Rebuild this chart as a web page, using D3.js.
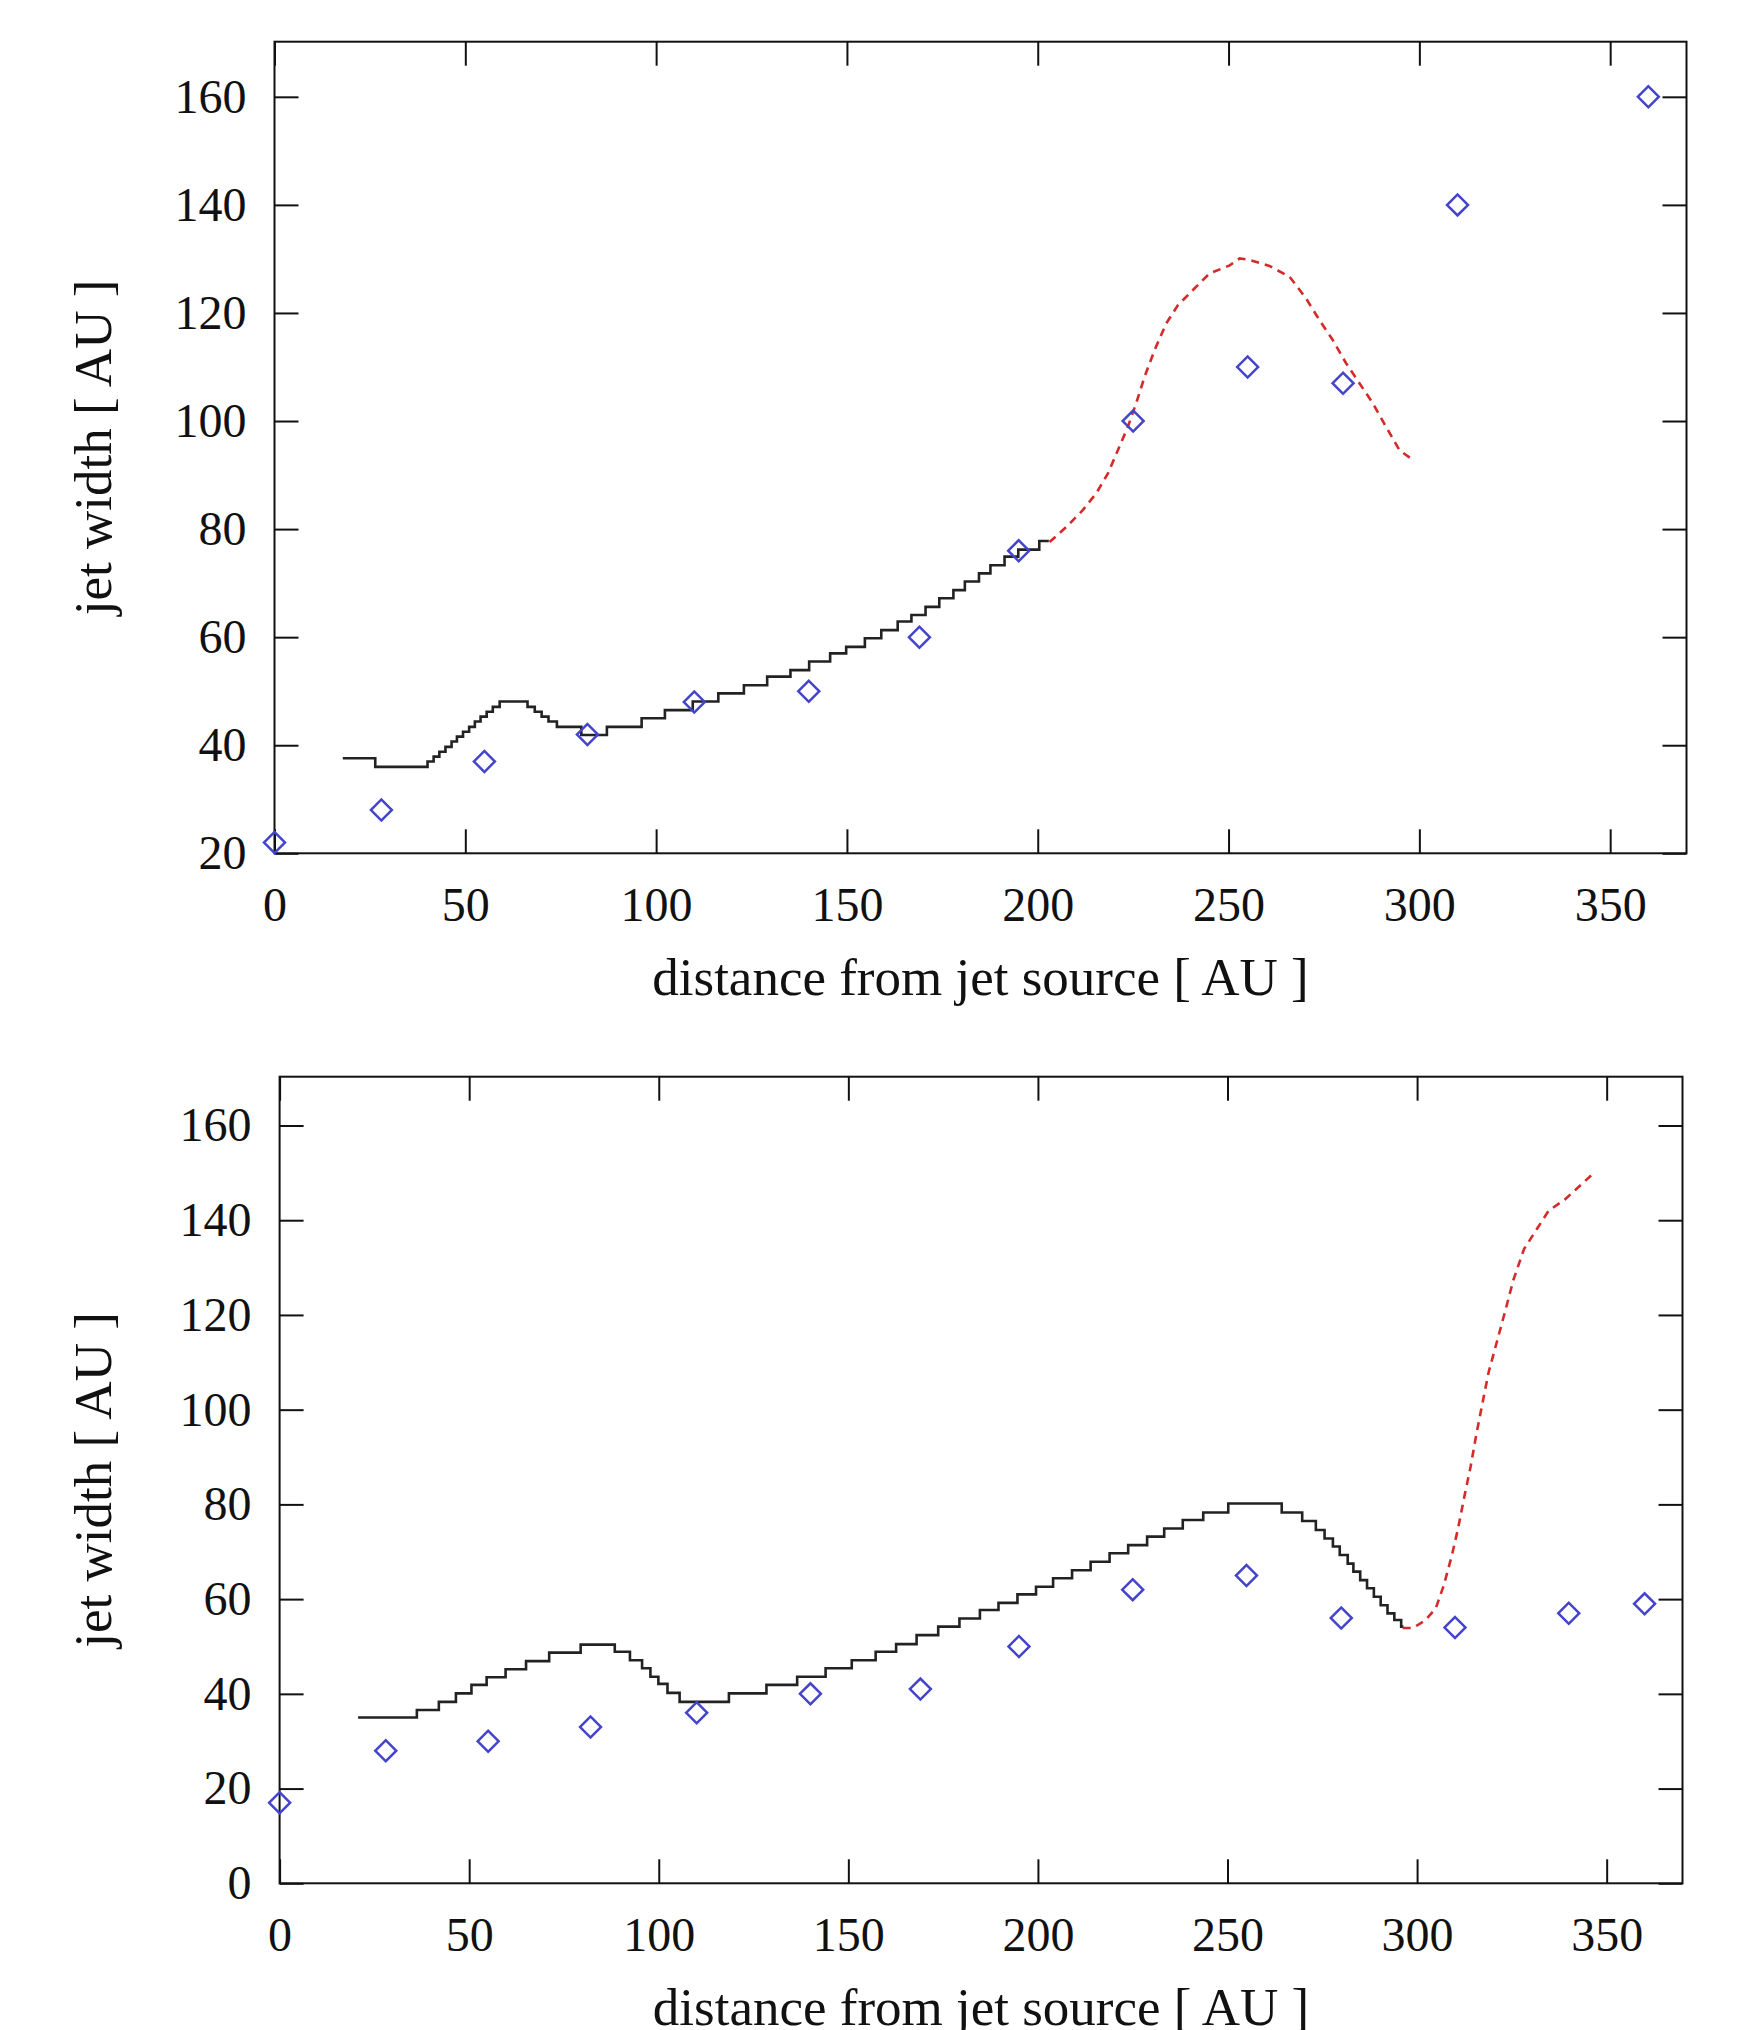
<!DOCTYPE html>
<html>
<head>
<meta charset="utf-8">
<script src="https://cdn.jsdelivr.net/npm/d3@7"></script>
<style>
  body { margin: 0; background: #fff; }
  .tick text { font-family: "Liberation Serif", "Times New Roman", serif; font-size: 48px; fill: #111; }
  .tick line { stroke: #111; stroke-width: 2px; }
  .title { font-family: "Liberation Serif", "Times New Roman", serif; font-size: 53px; fill: #111; }
</style>
</head>
<body>
<div class="chart"></div>
<script>
// sizes of the whole picture
var svgWidth = 1745;
var svgHeight = 2030;

// x ticks (shared by both panels)
var xTicks = [0, 50, 100, 150, 200, 250, 300, 350];
var topYTicks = [20, 40, 60, 80, 100, 120, 140, 160];
var botYTicks = [0, 20, 40, 60, 80, 100, 120, 140, 160];

// --- top panel data ---
var topObsX = [0, 28, 55, 82, 110, 140, 169, 195, 225, 255, 280, 310, 360];
var topObsY = [22, 28, 37, 42, 48, 50, 60, 76, 100, 110, 107, 140, 160];

// stepped model curve (start of each level)
var topStepX = [17.9, 26.4, 40.1, 41.7, 43.2, 44.8, 46.4, 47.8, 49.4, 51.0, 52.5, 54.0, 55.6, 57.2, 59.0,
  66.3, 68.2, 70.0, 71.8, 74.0, 80.4, 87.1, 96.2, 102.3, 109.6, 116.3, 123.0, 129.1, 135.2, 140.1,
  145.6, 149.8, 154.7, 159.0, 163.3, 166.9, 170.6, 174.2, 177.9, 180.9, 184.6, 187.6, 191.3, 194.9,
  200.4, 202.9];
var topStepY = [37.6, 36.0, 37.0, 37.9, 38.8, 39.7, 40.7, 41.6, 42.5, 43.4, 44.4, 45.3, 46.2, 47.1, 48.1,
  47.1, 46.2, 45.3, 44.4, 43.4, 41.9, 43.4, 45.0, 46.5, 48.1, 49.6, 51.1, 52.7, 53.9, 55.5,
  57.0, 58.2, 59.8, 61.3, 62.9, 64.1, 65.6, 67.2, 68.7, 70.3, 71.8, 73.3, 74.9, 76.2,
  77.8, 77.8];

// dashed continuation
var topDashX = [203.1, 207.5, 211.8, 215.3, 218.4, 221.0, 223.6, 225.8, 228.0, 230.6, 233.7, 236.7,
  240.6, 245.0, 250.3, 252.9, 255.5, 260.7, 266.0, 270.3, 273.8, 277.3, 280.8, 284.3, 287.8,
  291.3, 294.8, 298.3];
var topDashY = [77.6, 80.4, 83.5, 86.6, 90.3, 94.6, 98.9, 103.3, 108.2, 113.1, 118.1, 121.4,
  124.2, 127.3, 128.8, 130.1, 129.8, 128.7, 126.7, 122.7, 118.7, 115.0, 110.7, 107.0, 103.3,
  98.9, 94.6, 92.8];

// --- bottom panel data ---
var botObsX = [0, 28, 55, 82, 110, 140, 169, 195, 225, 255, 280, 310, 340, 360];
var botObsY = [17, 28, 30, 33, 36, 40, 41, 50, 62, 65, 56, 54, 57, 59];

var botStepX = [20.7, 36.2, 42.0, 46.5, 50.6, 54.6, 59.6, 65.0, 71.1, 79.4, 88.4, 92.4, 95.6, 97.8,
  99.9, 102.3, 105.5, 118.5, 128.4, 136.5, 144.0, 150.9, 157.2, 162.6, 168.0, 173.7, 179.3, 184.7,
  189.6, 194.6, 199.5, 204.0, 209.0, 213.9, 218.9, 223.8, 228.8, 233.3, 238.2, 243.6, 250.2, 264.3,
  269.7, 273.3, 275.6, 277.8, 279.6, 281.7, 283.2, 285.0, 286.8, 288.6, 290.4, 292.2, 294.0, 295.8,
  296.4];
var botStepY = [35.0, 36.6, 38.3, 40.1, 41.9, 43.5, 45.2, 46.9, 48.7, 50.4, 48.9, 47.1, 45.4, 43.6,
  42.1, 40.2, 38.3, 40.1, 41.9, 43.6, 45.4, 47.1, 48.9, 50.5, 52.4, 54.2, 55.9, 57.7,
  59.2, 61.0, 62.6, 64.4, 66.1, 67.9, 69.7, 71.4, 73.2, 74.9, 76.7, 78.3, 80.2, 78.3,
  76.5, 74.6, 72.8, 71.1, 69.3, 67.5, 65.8, 64.0, 62.3, 60.5, 58.7, 57.0, 55.6, 54.2,
  54.2];

var botDashX = [296.2, 298.9, 302.1, 304.9, 307.0, 309.2, 310.8, 312.4, 314.1, 315.7, 317.3, 318.9,
  321.1, 323.3, 325.4, 328.2, 331.4, 334.7, 339.0, 342.3, 346.1];
var botDashY = [53.9, 53.9, 55.5, 58.0, 62.8, 69.3, 74.9, 81.4, 87.9, 95.1, 101.6, 108.0,
  114.5, 121.0, 127.4, 133.9, 137.9, 142.0, 144.4, 146.8, 149.6];

var svg = d3
    .select(".chart")
    .append("svg")
    .attr("width", svgWidth)
    .attr("height", svgHeight);

function zip(xs, ys) {
    return xs.map((x, i) => ({x: x, y: ys[i]}));
}

// draws one framed panel
function drawPanel(p) {
    var width = p.right - p.left;
    var height = p.bottom - p.top;

    var g = svg.append("g")
        .attr("transform", `translate(${p.left}, ${p.top})`);

    var xScale = d3.scaleLinear().domain([0, 370]).range([0, width]);
    var yScale = d3.scaleLinear().domain(p.yDomain).range([height, 0]);

    // bottom axis with labels, ticks pointing inward
    g.append("g")
        .attr("transform", `translate(0, ${height})`)
        .call(d3.axisBottom(xScale).tickValues(xTicks).tickSizeInner(-24).tickSizeOuter(0).tickPadding(34))
        .call(a => a.select(".domain").remove());

    g.append("g")
        .call(d3.axisTop(xScale).tickValues(xTicks).tickSizeInner(-24).tickSizeOuter(0).tickFormat(""))
        .call(a => a.select(".domain").remove());

    g.append("g")
        .call(d3.axisLeft(yScale).tickValues(p.yTicks).tickSizeInner(-24).tickSizeOuter(0).tickPadding(28))
        .call(a => a.select(".domain").remove());

    g.append("g")
        .attr("transform", `translate(${width}, 0)`)
        .call(d3.axisRight(yScale).tickValues(p.yTicks).tickSizeInner(-24).tickSizeOuter(0).tickFormat(""))
        .call(a => a.select(".domain").remove());

    g.selectAll(".tick text").attr("fill", "#111");

    // frame
    g.append("rect")
        .attr("width", width)
        .attr("height", height)
        .attr("fill", "none")
        .attr("stroke", "#111")
        .attr("stroke-width", 2);

    // stepped model line
    var stepLine = d3.line()
        .x(d => xScale(d.x))
        .y(d => yScale(d.y))
        .curve(d3.curveStepAfter);

    g.append("path")
        .datum(zip(p.stepX, p.stepY))
        .attr("d", stepLine)
        .attr("fill", "none")
        .attr("stroke", "#222")
        .attr("stroke-width", 2.6);

    // dashed red extension
    var dashLine = d3.line()
        .x(d => xScale(d.x))
        .y(d => yScale(d.y));

    g.append("path")
        .datum(zip(p.dashX, p.dashY))
        .attr("d", dashLine)
        .attr("fill", "none")
        .attr("stroke", "#d42a2a")
        .attr("stroke-width", 2.6)
        .attr("stroke-dasharray", "8,6");

    // observed points: open diamonds
    g.selectAll(".obs")
        .data(zip(p.obsX, p.obsY))
        .enter()
        .append("path")
        .attr("class", "obs")
        .attr("d", d3.symbol(d3.symbolSquare, 220))
        .attr("transform", d => `translate(${xScale(d.x)}, ${yScale(d.y)}) rotate(45)`)
        .attr("fill", "none")
        .attr("stroke", "#4444cc")
        .attr("stroke-width", 2.5);

    // axis titles
    g.append("text")
        .attr("class", "title")
        .attr("x", width / 2)
        .attr("y", height + 142)
        .attr("text-anchor", "middle")
        .text("distance from jet source [ AU ]");

    g.append("text")
        .attr("class", "title")
        .attr("transform", `translate(${111 - p.left}, ${height / 2}) rotate(-90)`)
        .attr("text-anchor", "middle")
        .text("jet width [ AU ]");
}

drawPanel({
    left: 274.5, right: 1686.5, top: 41.7, bottom: 853.3,
    yDomain: [20, 170.2], yTicks: topYTicks,
    obsX: topObsX, obsY: topObsY,
    stepX: topStepX, stepY: topStepY,
    dashX: topDashX, dashY: topDashY
});

drawPanel({
    left: 279.6, right: 1682.5, top: 1076.7, bottom: 1883.3,
    yDomain: [0, 170.3], yTicks: botYTicks,
    obsX: botObsX, obsY: botObsY,
    stepX: botStepX, stepY: botStepY,
    dashX: botDashX, dashY: botDashY
});
</script>
</body>
</html>
